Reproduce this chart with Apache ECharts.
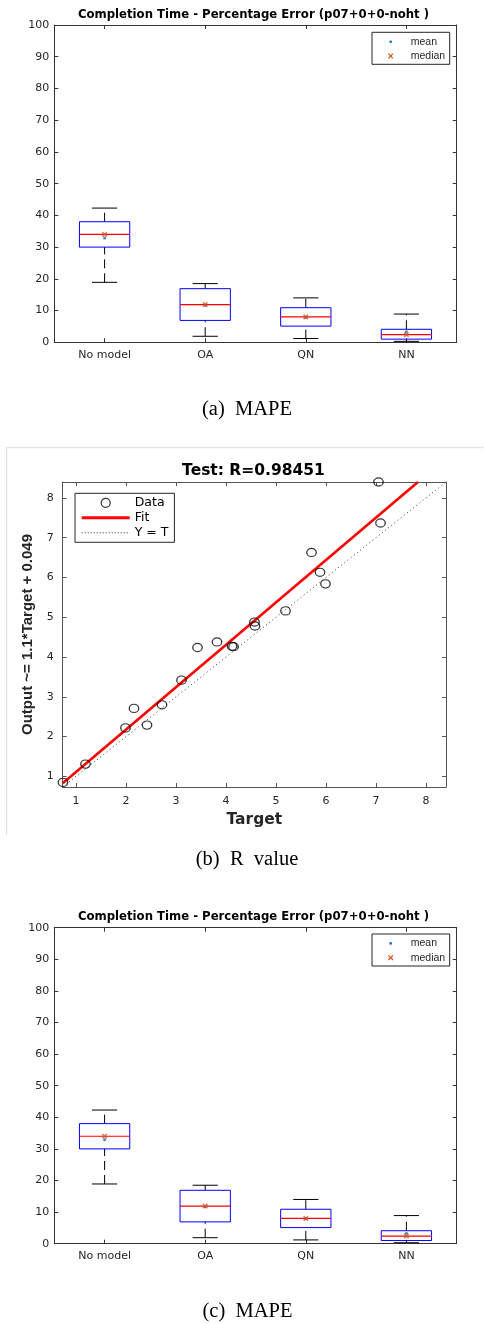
<!DOCTYPE html>
<html>
<head>
<meta charset="utf-8">
<script src="https://cdn.jsdelivr.net/npm/echarts@6/dist/echarts.min.js"></script>
<style>
html,body{margin:0;padding:0;background:#fff;}
#chart{width:484px;height:1324px;}
</style>
</head>
<body>
<div id="chart"></div>
<script>
// ---------- Data: panels (a) and (c) — MAPE box plots ----------
const categories = ['No model', 'OA', 'QN', 'NN'];
const whiskerLow = [18.9, 1.9, 1.2, 0.3];
const quartile1 = [30.0, 6.9, 5.1, 1.0];
const medians = [34.0, 11.9, 8.0, 2.4];
const quartile3 = [38.0, 16.9, 10.9, 4.1];
const whiskerHigh = [42.3, 18.5, 14.0, 8.9];
const means = [32.9, 11.7, 7.9, 3.3];
const mapeTicks = [0, 10, 20, 30, 40, 50, 60, 70, 80, 90, 100];
const boxLegendNames = ['mean', 'median'];

// ---------- Data: panel (b) — regression ----------
const targets = [0.74, 1.19, 1.99, 2.16, 2.42, 2.72, 3.11, 3.43, 3.82, 4.12, 4.15, 4.57, 4.58, 5.19, 5.71, 5.88, 5.99, 7.05, 7.09];
const outputs = [0.85, 1.31, 2.22, 2.71, 2.29, 2.80, 3.42, 4.24, 4.38, 4.27, 4.26, 4.88, 4.78, 5.16, 6.63, 6.13, 5.84, 8.40, 7.37];
const fitLine = [[0.734, 0.83], [7.84, 8.40]];
const identityLine = [[0.734, 0.734], [8.40, 8.40]];
const regTicks = [1, 2, 3, 4, 5, 6, 7, 8];
const regMin = 0.734, regMax = 8.40;

const SANS = 'DejaVu Sans';
const AX = '#333333';
const MEAN_C = '#0072BD', MED_C = '#D95319';
const X_PATH = 'path://M0,2L2,0L5,3L8,0L10,2L7,5L10,8L8,10L5,7L2,10L0,8L3,5Z';
const FIT_ICON = 'path://M0,0L48,0L48,3L0,3Z';
let dots = '';
for (let k = 0; k < 48; k += 3) dots += 'M' + k + ',0L' + (k + 1) + ',0L' + (k + 1) + ',1L' + k + ',1Z';
const DOT_LINE_ICON = 'path://' + dots + 'M47.9,0L48,0L48,1L47.9,1Z';

const boxData = categories.map((c, i) => [i, whiskerLow[i], quartile1[i], medians[i], quartile3[i], whiskerHigh[i]]);
const meanData = categories.map((c, i) => [i, means[i]]);
const medData = categories.map((c, i) => [i, medians[i]]);
const regData = targets.map((t, i) => [t, outputs[i]]);

function renderBox(params, api) {
  const x = api.value(0);
  const pLow = api.coord([x, api.value(1)]);
  const pQ1 = api.coord([x, api.value(2)]);
  const pMed = api.coord([x, api.value(3)]);
  const pQ3 = api.coord([x, api.value(4)]);
  const pHigh = api.coord([x, api.value(5)]);
  const band = api.size([1, 0])[0];
  const bw = band * 0.5, cw = band * 0.25;
  const cx = pLow[0];
  const dash = {stroke: '#000', lineWidth: 1, lineDash: [9, 5]};
  return {
    type: 'group',
    children: [
      {type: 'line', shape: {x1: cx, y1: pLow[1], x2: cx, y2: pQ1[1]}, style: dash},
      {type: 'line', shape: {x1: cx, y1: pQ3[1], x2: cx, y2: pHigh[1]}, style: dash},
      {type: 'line', shape: {x1: cx - cw / 2, y1: pLow[1], x2: cx + cw / 2, y2: pLow[1]}, style: {stroke: '#000', lineWidth: 1}},
      {type: 'line', shape: {x1: cx - cw / 2, y1: pHigh[1], x2: cx + cw / 2, y2: pHigh[1]}, style: {stroke: '#000', lineWidth: 1}},
      {type: 'rect', shape: {x: cx - bw / 2, y: pQ3[1], width: bw, height: pQ1[1] - pQ3[1]}, style: {stroke: '#0000ff', fill: 'none', lineWidth: 1}},
      {type: 'line', shape: {x1: cx - bw / 2, y1: pMed[1], x2: cx + bw / 2, y2: pMed[1]}, style: {stroke: '#ff0000', lineWidth: 1.2}}
    ]
  };
}

const grids = [
  {left: 54.3, top: 25, width: 402.4, height: 317.3},
  {left: 62.7, top: 482, width: 383.3, height: 305},
  {left: 54.3, top: 927.7, width: 402.4, height: 316}
];

function boxAxes(gi) {
  const tick = {show: true, inside: true, alignWithLabel: true, length: 4, lineStyle: {color: AX}};
  const line = {show: true, onZero: false, lineStyle: {color: AX, width: 1}};
  const xa = [
    {type: 'category', gridIndex: gi, data: categories, position: 'bottom', axisLine: line, axisTick: tick,
     axisLabel: {fontFamily: SANS, fontSize: 11, color: '#262626', margin: 7}, splitLine: {show: false}},
    {type: 'category', gridIndex: gi, data: categories, position: 'top', axisLine: line, axisTick: tick,
     axisLabel: {show: false}, splitLine: {show: false}}
  ];
  const ytick = {show: true, inside: true, length: 4, lineStyle: {color: AX}, customValues: mapeTicks};
  const ya = [
    {type: 'value', gridIndex: gi, min: 0, max: 100, position: 'left', axisLine: line, axisTick: ytick,
     axisLabel: {fontFamily: SANS, fontSize: 11, color: '#262626', margin: 5, customValues: mapeTicks}, splitLine: {show: false}},
    {type: 'value', gridIndex: gi, min: 0, max: 100, position: 'right', axisLine: line, axisTick: ytick,
     axisLabel: {show: false, customValues: mapeTicks}, splitLine: {show: false}}
  ];
  return {xa, ya};
}

function regAxes(gi) {
  const line = {show: true, onZero: false, lineStyle: {color: '#555', width: 1}};
  const tick = {show: true, inside: true, length: 4, lineStyle: {color: '#555'}, customValues: regTicks};
  const xa = [
    {type: 'value', gridIndex: gi, min: regMin, max: regMax, position: 'bottom', axisLine: line, axisTick: tick,
     axisLabel: {fontFamily: SANS, fontSize: 11, color: '#262626', margin: 9, customValues: regTicks}, splitLine: {show: false},
     name: 'Target', nameLocation: 'middle', nameGap: 25,
     nameTextStyle: {fontFamily: SANS, fontWeight: 'bold', fontSize: 15.5, color: '#262626', lineHeight: 16}},
    {type: 'value', gridIndex: gi, min: regMin, max: regMax, position: 'top', axisLine: line, axisTick: tick,
     axisLabel: {show: false, customValues: regTicks}, splitLine: {show: false}}
  ];
  const ya = [
    {type: 'value', gridIndex: gi, min: regMin, max: regMax, position: 'left', axisLine: line, axisTick: tick,
     axisLabel: {fontFamily: SANS, fontSize: 11, color: '#262626', margin: 9, customValues: regTicks}, splitLine: {show: false},
     name: 'Output ~= 1.1*Target + 0.049', nameLocation: 'middle', nameGap: 25,
     nameTextStyle: {fontFamily: 'Liberation Sans', fontWeight: 'bold', fontSize: 15, color: '#262626', lineHeight: 16}},
    {type: 'value', gridIndex: gi, min: regMin, max: regMax, position: 'right', axisLine: line, axisTick: tick,
     axisLabel: {show: false, customValues: regTicks}, splitLine: {show: false}}
  ];
  return {xa, ya};
}

const A = boxAxes(0), B = regAxes(1), C = boxAxes(2);

function boxSeries(xi, yi) {
  return [
    {type: 'custom', xAxisIndex: xi, yAxisIndex: yi, data: boxData, renderItem: renderBox,
     encode: {x: 0, y: [1, 2, 3, 4, 5]}, silent: true, z: 2},
    {type: 'scatter', name: boxLegendNames[0], xAxisIndex: xi, yAxisIndex: yi, data: meanData, symbol: 'circle', symbolSize: 3,
     itemStyle: {color: MEAN_C}, z: 4, clip: false},
    {type: 'scatter', name: boxLegendNames[1], xAxisIndex: xi, yAxisIndex: yi, data: medData, symbol: X_PATH, symbolSize: 5.5,
     itemStyle: {color: MED_C}, z: 5, clip: false}
  ];
}

// legend box for the box-plot panels (drawn so the marks sit exactly as in the figure)
function boxLegendGraphic(top) {
  const L = 372, W = 77.7, H = 32;
  const r1 = top + 9.4, r2 = top + 23.7, ix = 390.7, tx = 410.7;
  return {
    type: 'group', silent: true, z: 50,
    children: [
      {type: 'rect', shape: {x: L, y: top, width: W, height: H}, style: {fill: '#fff', stroke: '#262626', lineWidth: 1}},
      {type: 'circle', shape: {cx: ix, cy: r1, r: 1.3}, style: {fill: MEAN_C}},
      {type: 'line', shape: {x1: ix - 2.3, y1: r2 - 2.3, x2: ix + 2.3, y2: r2 + 2.3}, style: {stroke: MED_C, lineWidth: 1.2}},
      {type: 'line', shape: {x1: ix - 2.3, y1: r2 + 2.3, x2: ix + 2.3, y2: r2 - 2.3}, style: {stroke: MED_C, lineWidth: 1.2}},
      {type: 'text', x: tx, y: r1, style: {text: boxLegendNames[0], font: '10.5px "Liberation Sans"', fill: '#262626', textVerticalAlign: 'middle'}},
      {type: 'text', x: tx, y: r2, style: {text: boxLegendNames[1], font: '10.5px "Liberation Sans"', fill: '#262626', textVerticalAlign: 'middle'}}
    ]
  };
}

const option = {
  backgroundColor: '#fff',
  animation: false,
  grid: grids,
  xAxis: [...A.xa, ...B.xa, ...C.xa],
  yAxis: [...A.ya, ...B.ya, ...C.ya],
  legend: [
    {
      left: 75, top: 493.3, orient: 'vertical', selectedMode: false,
      data: [
        {name: 'Data', icon: 'circle', itemStyle: {color: 'none', borderColor: '#000', borderWidth: 1.2}},
        {name: 'Fit', icon: FIT_ICON, itemStyle: {color: '#ff0000', borderWidth: 0}},
        {name: 'Y = T', icon: DOT_LINE_ICON, itemStyle: {color: '#333', borderWidth: 0}}
      ],
      itemWidth: 48, itemHeight: 9, itemGap: 0, padding: [2, 6, 2, 6.7],
      borderColor: '#262626', borderWidth: 1, backgroundColor: '#fff',
      textStyle: {fontFamily: SANS, fontSize: 12.5, color: '#000', lineHeight: 15}
    }
  ],
  series: [
    ...boxSeries(0, 0),
    {type: 'line', name: 'Y = T', xAxisIndex: 2, yAxisIndex: 2, data: identityLine, symbol: 'none',
     itemStyle: {color: '#333'}, lineStyle: {color: '#333', width: 1, type: [1, 3]}, z: 2},
    {type: 'line', name: 'Fit', xAxisIndex: 2, yAxisIndex: 2, data: fitLine, symbol: 'none',
     itemStyle: {color: '#ff0000'}, lineStyle: {color: '#ff0000', width: 2.6}, z: 3, clip: true},
    {type: 'scatter', name: 'Data', xAxisIndex: 2, yAxisIndex: 2, data: regData, symbol: 'circle', symbolSize: [9.5, 8.2],
     itemStyle: {color: 'none', borderColor: '#000', borderWidth: 1.2}, z: 4, clip: false},
    ...boxSeries(4, 4)
  ],
  graphic: [
    boxLegendGraphic(32.3),
    boxLegendGraphic(934),
    {type: 'line', shape: {x1: 6.7, y1: 447.7, x2: 484, y2: 447.7}, style: {stroke: '#dcdcdc', lineWidth: 1}, silent: true},
    {type: 'line', shape: {x1: 6.7, y1: 447.7, x2: 6.7, y2: 835}, style: {stroke: '#dcdcdc', lineWidth: 1}, silent: true},
    {type: 'text', x: 253.5, y: 15.3, style: {text: 'Completion Time - Percentage Error (p07+0+0-noht )', font: 'bold 11.7px "DejaVu Sans"', fill: '#000', textAlign: 'center', textVerticalAlign: 'middle'}},
    {type: 'text', x: 253.5, y: 471, style: {text: 'Test: R=0.98451', font: 'bold 15.5px "DejaVu Sans"', fill: '#000', textAlign: 'center', textVerticalAlign: 'middle'}},
    {type: 'text', x: 253.5, y: 916.7, style: {text: 'Completion Time - Percentage Error (p07+0+0-noht )', font: 'bold 11.7px "DejaVu Sans"', fill: '#000', textAlign: 'center', textVerticalAlign: 'middle'}},
    {type: 'text', x: 247, y: 410, style: {text: '(a)  MAPE', font: '20.5px "Liberation Serif"', fill: '#000', textAlign: 'center', textVerticalAlign: 'middle'}},
    {type: 'text', x: 247, y: 860, style: {text: '(b)  R  value', font: '20.5px "Liberation Serif"', fill: '#000', textAlign: 'center', textVerticalAlign: 'middle'}},
    {type: 'text', x: 247.5, y: 1311.7, style: {text: '(c)  MAPE', font: '20.5px "Liberation Serif"', fill: '#000', textAlign: 'center', textVerticalAlign: 'middle'}}
  ]
};

const chart = echarts.init(document.getElementById('chart'), null, {renderer: 'canvas'});
chart.setOption(option);
</script>
</body>
</html>
